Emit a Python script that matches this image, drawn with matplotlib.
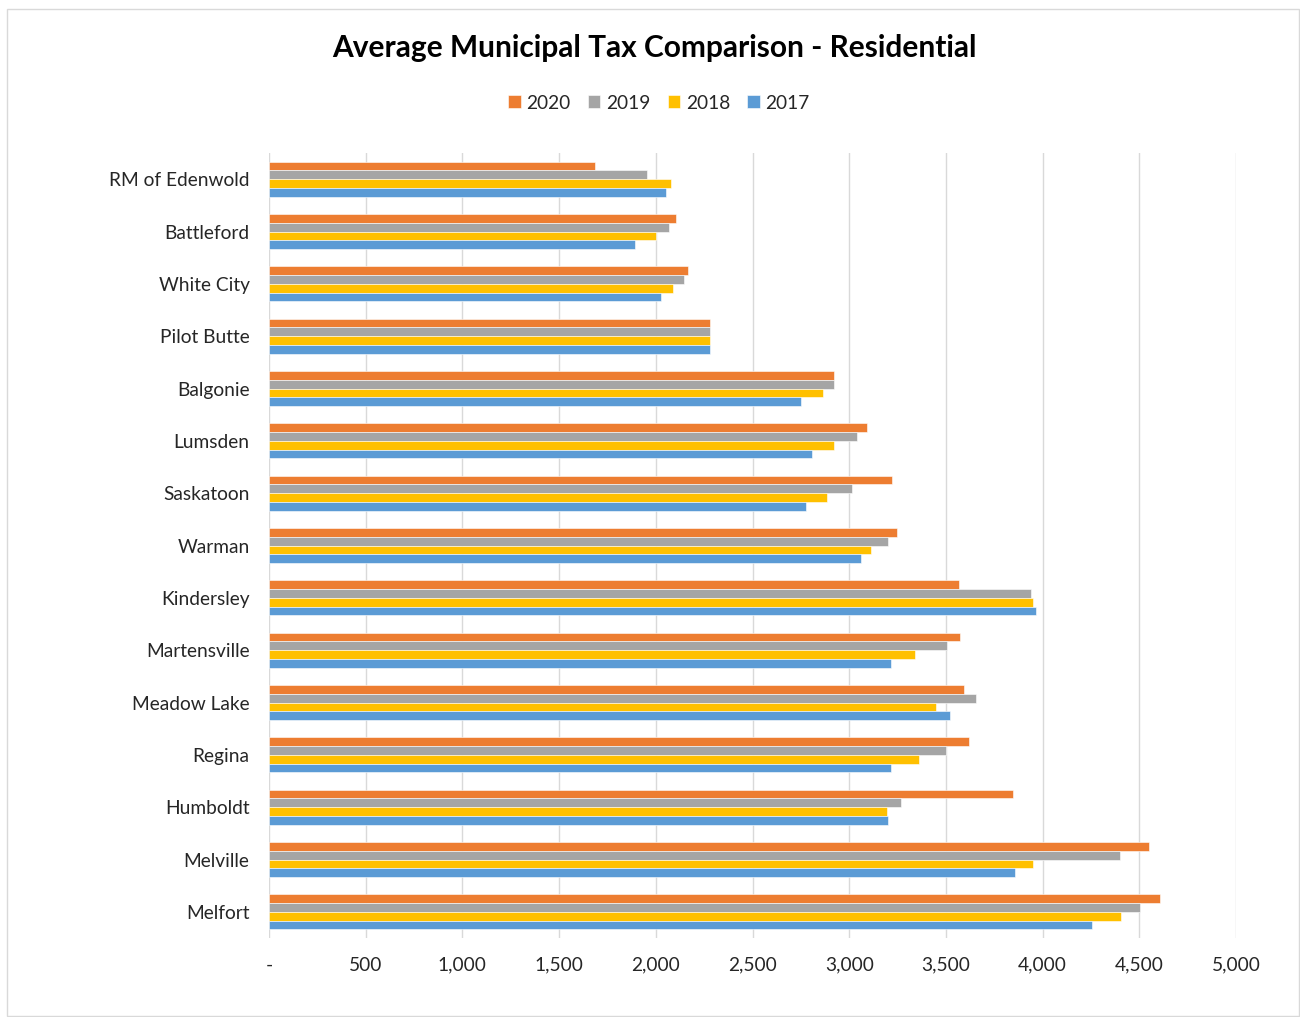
import numpy as np
import matplotlib.pyplot as plt
from matplotlib.patches import Rectangle
from matplotlib.ticker import FuncFormatter

plt.rcParams['font.family'] = ['Lato', 'DejaVu Sans']

towns = ["RM of Edenwold", "Battleford", "White City", "Pilot Butte", "Balgonie",
         "Lumsden", "Saskatoon", "Warman", "Kindersley", "Martensville",
         "Meadow Lake", "Regina", "Humboldt", "Melville", "Melfort"]

tax_2020 = [1685, 2103, 2167, 2278, 2919, 3093, 3221, 3248, 3567, 3572, 3593, 3617, 3848, 4552, 4607]
tax_2019 = [1955, 2066, 2145, 2278, 2919, 3040, 3014, 3203, 3941, 3507, 3653, 3502, 3267, 4402, 4501]
tax_2018 = [2081, 2002, 2090, 2278, 2867, 2922, 2884, 3114, 3948, 3340, 3448, 3359, 3195, 3948, 4403]
tax_2017 = [2052, 1891, 2029, 2278, 2753, 2810, 2776, 3062, 3965, 3215, 3521, 3217, 3198, 3855, 4257]

years = ["2020", "2019", "2018", "2017"]
colors = ["#ED7D31", "#A5A5A5", "#FFC000", "#5B9BD5"]

fig = plt.figure(figsize=(13, 10.17), dpi=100)
ax = fig.add_axes([0.2069, 1 - 938 / 1017, 0.7439, 785 / 1017])

# outer chart frame
fig.patches.append(Rectangle((7 / 1300, 1 - 1016 / 1017), 1292 / 1300, 1007 / 1017,
                             transform=fig.transFigure, fill=False,
                             edgecolor="#D9D9D9", linewidth=1))

y = np.arange(len(towns))
h = 0.1667
series = [tax_2020, tax_2019, tax_2018, tax_2017]
for i, (vals, yr, c) in enumerate(zip(series, years, colors)):
    ax.barh(y + (i - 1.5) * h, vals, height=h, color=c, label=yr,
            edgecolor="white", linewidth=0.4, zorder=3)

ax.set_xlim(0, 5000)
ax.set_ylim(len(towns) - 0.5, -0.5)
ax.set_xticks(np.arange(0, 5001, 500))
ax.xaxis.set_major_formatter(FuncFormatter(lambda v, p: "-" if v == 0 else f"{int(v):,}"))
ax.set_yticks(y)
ax.set_yticklabels(towns)

ax.grid(axis="x", color="#D9D9D9", linewidth=1, zorder=0)
for s in ax.spines.values():
    s.set_visible(False)
ax.tick_params(axis="both", length=0, labelsize=13.8, colors="#262626")
ax.tick_params(axis="x", pad=13.5)
ax.tick_params(axis="y", pad=14)

fig.text(0.5 + 4 / 1300, 1 - 48 / 1017, "Average Municipal Tax Comparison - Residential",
         ha="center", va="center", fontsize=21.5, fontweight="bold", color="black")

ax.legend(loc="center", bbox_to_anchor=(659 / 1300, 1 - 103 / 1017),
          bbox_transform=fig.transFigure, ncol=4, frameon=False, fontsize=13.8,
          handlelength=0.65, handleheight=0.65, handletextpad=0.3, columnspacing=0.9,
          labelcolor="#262626")

fig.savefig("out.png", dpi=100, facecolor="white")
